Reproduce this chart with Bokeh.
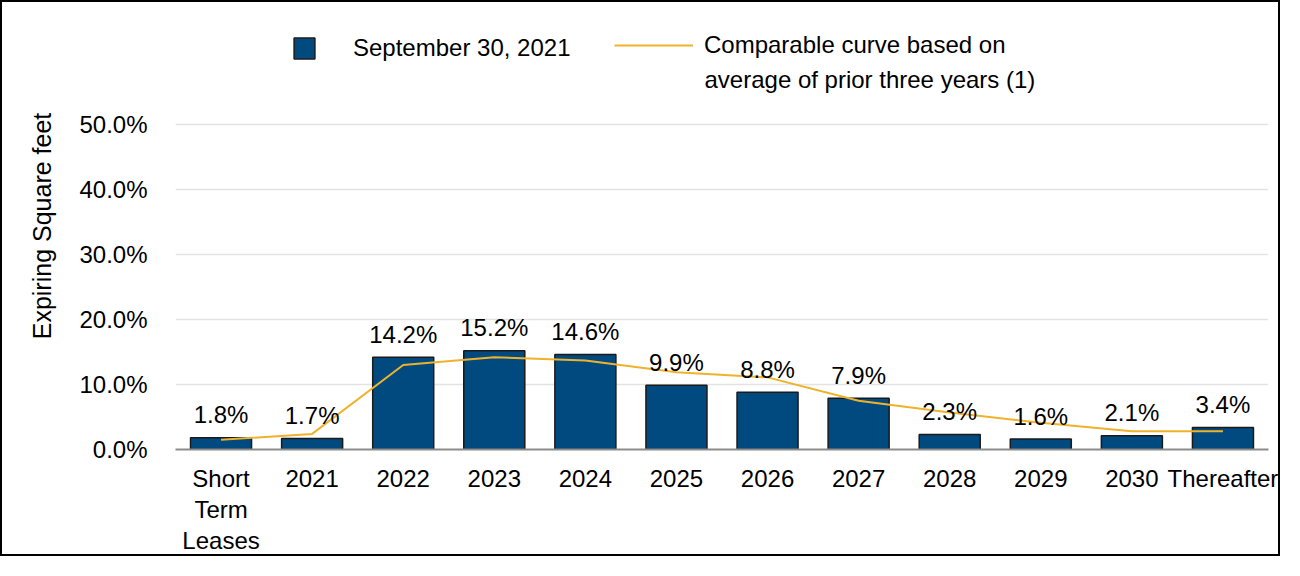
from bokeh.plotting import figure
from bokeh.models import (ColumnDataSource, FactorRange, Range1d, FixedTicker,
                          PrintfTickFormatter, Legend, LegendItem, Label)
from bokeh.embed import file_html
from bokeh.resources import INLINE
from bokeh.core.properties import value

categories = ["Short\nTerm\nLeases", "2021", "2022", "2023", "2024", "2025",
              "2026", "2027", "2028", "2029", "2030", "Thereafter"]
sept_2021 = [1.8, 1.7, 14.2, 15.2, 14.6, 9.9, 8.8, 7.9, 2.3, 1.6, 2.1, 3.4]
prior_avg = [1.5, 2.4, 13.0, 14.2, 13.7, 11.9, 11.1, 7.5, 5.7, 4.1, 2.8, 2.8]
bar_labels = ["1.8%", "1.7%", "14.2%", "15.2%", "14.6%", "9.9%", "8.8%",
              "7.9%", "2.3%", "1.6%", "2.1%", "3.4%"]
y_ticks = [0, 10, 20, 30, 40, 50]
series_bar = "September 30, 2021"
series_line = ["Comparable curve based on", "average of prior three years (1)"]

FONT = "Liberation Sans"
FS = "24px"
BAR_COLOR = "#004A80"
LINE_COLOR = "#EFB22A"

src = ColumnDataSource(dict(cat=categories, v=sept_2021, avg=prior_avg, lbl=bar_labels))

# frame spans the whole top so the legend (drawn in the frame) is not clipped;
# the y range top is chosen so that 0..50 % occupies the lower part of the frame
p = figure(width=1280, height=556, x_range=FactorRange(*categories, range_padding=0),
           y_range=Range1d(0, 68.77), output_backend="svg", toolbar_location=None,
           min_border_left=173, min_border_right=14, min_border_top=0,
           min_border_bottom=109)
p.styles = {"border": "2px solid black"}
p.outline_line_color = None

bars = p.vbar(x="cat", top="v", width=0.67, source=src, fill_color=BAR_COLOR,
              line_color="#1a1a1a", line_width=1.5)
line = p.line(x="cat", y="avg", source=src, line_color=LINE_COLOR, line_width=2)
p.text(x="cat", y="v", text="lbl", source=src, text_align="center",
       text_baseline="alphabetic", y_offset=-23, text_font=value(FONT),
       text_font_size=FS, text_color="#000000")

# axes
p.yaxis.ticker = FixedTicker(ticks=y_ticks)
p.yaxis.formatter = PrintfTickFormatter(format="%.1f%%")
p.yaxis.axis_line_color = None
p.yaxis.major_tick_line_color = None
p.yaxis.minor_tick_line_color = None
p.yaxis.major_tick_out = 0
p.yaxis.major_tick_in = 0
p.yaxis.major_label_standoff = 28
p.yaxis.major_label_text_font = FONT
p.yaxis.major_label_text_font_size = FS
p.yaxis.major_label_text_color = "#000000"
p.yaxis.axis_label = "Expiring Square feet"
p.yaxis.axis_label_text_font = FONT
p.yaxis.axis_label_text_font_size = "25px"
p.yaxis.axis_label_text_font_style = "normal"
p.yaxis.axis_label_text_color = "#000000"
p.yaxis.axis_label_standoff = 20

p.xaxis.axis_line_color = "#8c8c8c"
p.xaxis.axis_line_width = 2
p.xaxis.major_tick_line_color = None
p.xaxis.major_tick_out = 0
p.xaxis.major_tick_in = 0
p.xaxis.major_label_standoff = 15
p.xaxis.major_label_text_font = FONT
p.xaxis.major_label_text_font_size = FS
p.xaxis.major_label_text_color = "#000000"
p.xaxis.major_label_text_line_height = 1.16

p.xgrid.grid_line_color = None
p.ygrid.grid_line_color = "#e3e3e3"
p.ygrid.grid_line_width = 1.5

common = dict(orientation="horizontal", padding=0, margin=0,
              border_line_color=None, background_fill_alpha=0,
              label_text_font=FONT, label_text_font_size=FS,
              label_text_color="#000000")
leg_bar = Legend(items=[LegendItem(label=series_bar, renderers=[bars])],
                 location=(116, 387), glyph_width=26, glyph_height=26,
                 label_standoff=36, **common)
leg_line = Legend(items=[LegendItem(label=series_line[0], renderers=[line])],
                  location=(439, 390), glyph_width=79, glyph_height=20,
                  label_standoff=11, **common)
p.add_layout(leg_bar, "center")
p.add_layout(leg_line, "center")
p.add_layout(Label(x=529, y=370, x_units="screen", y_units="screen",
                   text=series_line[1], text_baseline="middle",
                   text_font=FONT, text_font_size=FS, text_color="#000000"))

open("out.html", "w").write(file_html(p, INLINE))
